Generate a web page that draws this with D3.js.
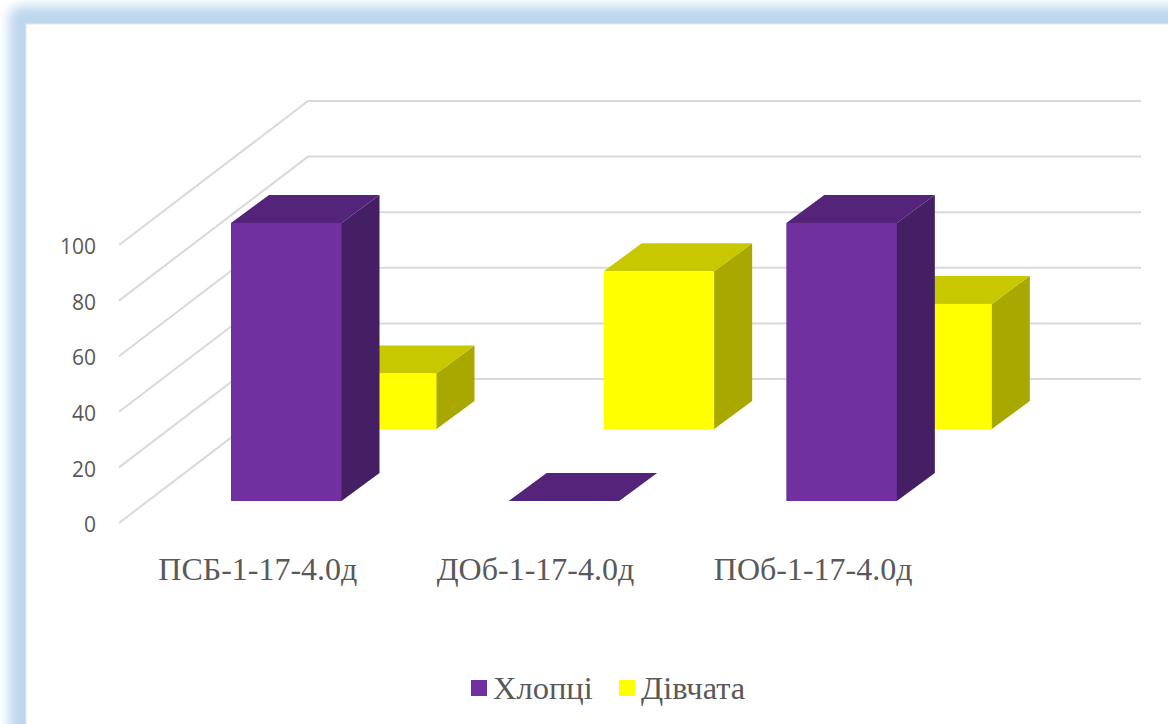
<!DOCTYPE html>
<html>
<head>
<meta charset="utf-8">
<script src="https://d3js.org/d3.v7.min.js"></script>
<style>
    html, body { margin: 0; padding: 0; background: #fff; }
    svg { display: block; }
    .ticks-y text { font-family: "Open Sans", sans-serif; font-size: 21px; fill: #595959; }
    .ticks-x text { font-family: "Liberation Serif", serif; font-size: 32px; fill: #595959; }
    .legend text { font-family: "Liberation Serif", serif; font-size: 32.5px; fill: #595959; }
</style>
</head>
<body>
<div id="chart"></div>
<script>
// Data
var categories = ["ПСБ-1-17-4.0д", "ДОб-1-17-4.0д", "ПОб-1-17-4.0д"];
var boys = [100, 0, 100];
var girls = [20, 56.7, 45];
var seriesNames = ["Хлопці", "Дівчата"];
var yTicks = [0, 20, 40, 60, 80, 100];
var frontColors = ["#7030a0", "#ffff00"];
var topColors = ["#54237a", "#c8c800"];
var sideColors = ["#451f63", "#a8a800"];

var svgWidth = 1168;
var svgHeight = 724;

var svg = d3.select("#chart")
    .append("svg")
    .attr("width", svgWidth)
    .attr("height", svgHeight);

// Blue glow frame round the white panel
var defs = svg.append("defs");
defs.append("filter")
    .attr("id", "glow")
    .attr("x", "-5%").attr("y", "-5%")
    .attr("width", "110%").attr("height", "110%")
    .append("feGaussianBlur")
    .attr("stdDeviation", 6);

svg.append("rect")
    .attr("x", 9).attr("y", 6)
    .attr("width", 1300).attr("height", 900)
    .attr("rx", 12)
    .attr("fill", "#bdd7ee")
    .attr("filter", "url(#glow)");

svg.append("rect")
    .attr("x", 26).attr("y", 24)
    .attr("width", 1200).attr("height", 800)
    .attr("fill", "#fff")
    .attr("stroke", "#e9e5e1")
    .attr("stroke-width", 1);

// Scales for the front plane
var y = d3.scaleLinear().domain([0, 100]).range([523, 245]);
var x = d3.scaleBand().domain(categories).range([119, 952]);

// 3D offsets
var wall = { dx: 189, dy: -144 };
var depth = { dx: 38, dy: -28 };
var barWidth = 110.5;
var rows = [
    { dx: 112, dy: -22 },   // boys
    { dx: 207, dy: -94 }    // girls
];
var wallRight = 1141;

// Gridlines: diagonal on the left wall, then flat along the back wall
svg.append("g")
    .selectAll("polyline")
    .data(yTicks)
    .enter()
    .append("polyline")
    .attr("points", d => [
        [x.range()[0], y(d)],
        [x.range()[0] + wall.dx, y(d) + wall.dy],
        [wallRight, y(d) + wall.dy]
    ].join(" "))
    .attr("fill", "none")
    .attr("stroke", "#d9d9d9")
    .attr("stroke-width", 2);

// Draw one 3D bar
function drawBar(g, cat, value, s) {
    var left = x(cat) + rows[s].dx;
    var right = left + barWidth;
    var base = y(0) + rows[s].dy;
    var top = y(value) + rows[s].dy;

    // side face, starts 1px under the front face so no seam shows
    if (value > 0) {
        g.append("polygon")
            .attr("points", [[right - 1, base], [right, base], [right + depth.dx, base + depth.dy],
                [right + depth.dx, top + depth.dy], [right, top], [right - 1, top]].join(" "))
            .attr("fill", sideColors[s]);
    }
    // top face
    g.append("polygon")
        .attr("points", [[left, top], [right, top],
            [right + depth.dx, top + depth.dy], [left + depth.dx, top + depth.dy]].join(" "))
        .attr("fill", topColors[s]);
    // front face
    if (value > 0) {
        g.append("rect")
            .attr("x", left)
            .attr("y", top)
            .attr("width", barWidth)
            .attr("height", base - top)
            .attr("fill", frontColors[s]);
    }
}

// Back row first so the boys stand in front
var bars = svg.append("g");
categories.forEach(function(cat, i) {
    drawBar(bars, cat, girls[i], 1);
});
categories.forEach(function(cat, i) {
    drawBar(bars, cat, boys[i], 0);
});

// Axes
var yAxis = d3.axisLeft(y).tickValues(yTicks).tickSize(0).tickPadding(0);
svg.append("g")
    .attr("class", "ticks-y")
    .attr("transform", "translate(96, 2)")
    .call(yAxis)
    .call(g => g.select(".domain").remove());

var xAxis = d3.axisBottom(x).tickSize(0).tickPadding(0);
svg.append("g")
    .attr("class", "ticks-x")
    .attr("transform", "translate(0, 557)")
    .call(xAxis)
    .call(g => g.select(".domain").remove());

// Legend
var legendX = [471, 619];
var legend = svg.append("g").attr("class", "legend");
seriesNames.forEach(function(name, i) {
    legend.append("rect")
        .attr("x", legendX[i])
        .attr("y", 680)
        .attr("width", 16)
        .attr("height", 16)
        .attr("fill", frontColors[i]);
    legend.append("text")
        .attr("x", legendX[i] + 22)
        .attr("y", 699)
        .text(name);
});
</script>
</body>
</html>
